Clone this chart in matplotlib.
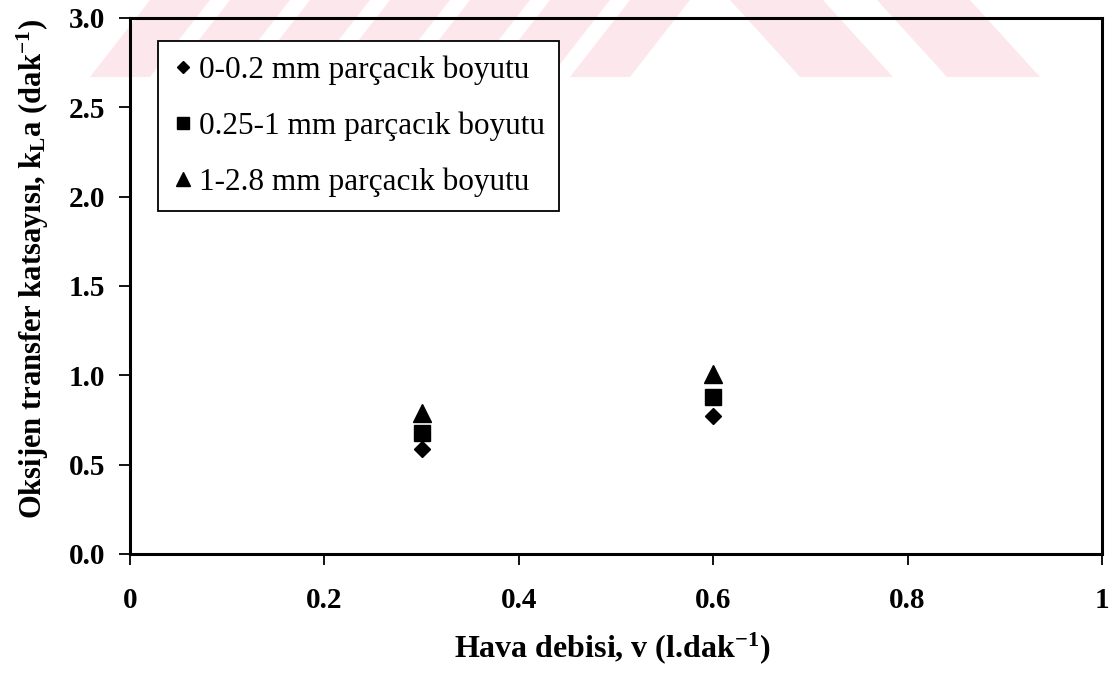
import numpy as np
import matplotlib
matplotlib.use("Agg")
import matplotlib.pyplot as plt
from matplotlib.patches import Polygon

plt.rcParams['font.family'] = ['Liberation Serif', 'DejaVu Serif']
plt.rcParams['mathtext.fontset'] = 'custom'
plt.rcParams['mathtext.rm'] = 'Liberation Serif'
plt.rcParams['mathtext.bf'] = 'Liberation Serif:bold'
plt.rcParams['mathtext.it'] = 'Liberation Serif:italic'

# data
hava_debisi = [0.3, 0.6]
kla_0_02 = [0.59, 0.77]
kla_025_1 = [0.68, 0.88]
kla_1_28 = [0.79, 1.01]
labels = ['0-0.2 mm parçacık boyutu',
          '0.25-1 mm parçacık boyutu',
          '1-2.8 mm parçacık boyutu']
xticks = [0, 0.2, 0.4, 0.6, 0.8, 1.0]
xtick_labels = ['0', '0.2', '0.4', '0.6', '0.8', '1']
yticks = [0.0, 0.5, 1.0, 1.5, 2.0, 2.5, 3.0]

W, H = 1113, 679
fig = plt.figure(figsize=(W / 100, H / 100), dpi=100)

# faint pink watermark stripes at the top of the page
pink = '#fce8ec'
wm_h = 77
def px(x, y):
    return (x / W, 1 - y / H)
for a in range(150, 700, 80):
    pts = [px(a, 0), px(a + 60, 0), px(a, wm_h), px(a - 60, wm_h)]
    fig.patches.append(Polygon(pts, closed=True, transform=fig.transFigure,
                               facecolor=pink, edgecolor='none', zorder=-5))
for a in (730, 877):
    pts = [px(a, 0), px(a + 93, 0), px(a + 163, wm_h), px(a + 70, wm_h)]
    fig.patches.append(Polygon(pts, closed=True, transform=fig.transFigure,
                               facecolor=pink, edgecolor='none', zorder=-5))

ax = fig.add_axes([130 / W, 1 - 554 / H, (1102 - 130) / W, (554 - 18) / H])
ax.patch.set_alpha(0)

ax.plot(hava_debisi, kla_0_02, linestyle='none', marker='D', color='black',
        markersize=8.5, label=labels[0])
ax.plot(hava_debisi, kla_025_1, linestyle='none', marker='s', color='black',
        markersize=11, label=labels[1])
ax.plot(hava_debisi, kla_1_28, linestyle='none', marker='^', color='black',
        markersize=12.5, label=labels[2])

ax.set_xlim(0, 1)
ax.set_ylim(0, 3)
ax.set_xticks(xticks)
ax.set_xticklabels(xtick_labels)
ax.set_yticks(yticks)
ax.set_yticklabels(['%.1f' % v for v in yticks])
for lab in ax.get_xticklabels() + ax.get_yticklabels():
    lab.set_fontweight('bold')
    lab.set_fontsize(21)
ax.tick_params(axis='both', direction='out', length=8, width=1.3, color='black')
ax.tick_params(axis='x', pad=16)
ax.tick_params(axis='y', pad=10)

for sp in ax.spines.values():
    sp.set_linewidth(2.2)
    sp.set_color('black')

fig.text(33 / W, 1 - 269 / H,
         r'Oksijen transfer katsayısı, k$_{\mathbf{L}}$a (dak$^{\mathbf{-1}}$)',
         rotation=90, ha='center', va='center', fontsize=22, fontweight='bold')
fig.text(612 / W, 1 - 648 / H, r'Hava debisi, v (l.dak$^{\mathbf{-1}}$)',
         ha='center', va='center', fontsize=23, fontweight='bold')

leg = ax.legend(loc='upper left', bbox_to_anchor=(28 / 972, 1 - 23 / 536),
                fontsize=22.5, frameon=True, fancybox=False, framealpha=1,
                borderpad=0.45, labelspacing=0.85, handletextpad=0.15,
                handlelength=0.7, borderaxespad=0)
leg.get_frame().set_edgecolor('black')
leg.get_frame().set_linewidth(1.3)
for h, ms in zip(leg.legend_handles, [6.6, 8.6, 9.4]):
    h.set_markersize(ms)

fig.savefig('out.png', dpi=100)
